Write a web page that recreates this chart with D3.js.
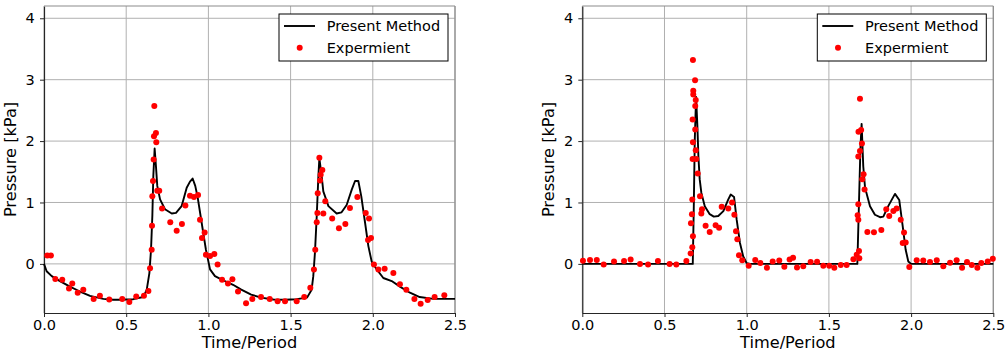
<!DOCTYPE html>
<html>
<head>
<meta charset="utf-8">
<script src="https://cdn.jsdelivr.net/npm/d3@7"></script>
<style>
  body { margin: 0; background: #fff; }
  svg { display: block; font-family: "DejaVu Sans", sans-serif; }
</style>
</head>
<body>
<svg id="canvas" width="1007" height="356"></svg>
<script>
// time/period, pressure [kPa]
let leftModel = [[0,0],[0.016,-0.12],[0.047,-0.2],[0.097,-0.28],[0.158,-0.37],[0.219,-0.45],[0.28,-0.52],[0.361,-0.57],[0.42,-0.585],[0.462,-0.585],[0.543,-0.575],[0.604,-0.54],[0.625,-0.42],[0.641,-0.15],[0.651,0.23],[0.659,0.78],[0.665,1.43],[0.673,1.88],[0.681,1.59],[0.689,1.27],[0.706,1.05],[0.736,0.89],[0.777,0.82],[0.803,0.83],[0.837,0.94],[0.868,1.24],[0.888,1.34],[0.904,1.39],[0.92,1.27],[0.935,1.08],[0.959,0.67],[0.985,0.23],[1.01,-0.09],[1.04,-0.2],[1.09,-0.27],[1.15,-0.34],[1.2,-0.42],[1.26,-0.5],[1.32,-0.55],[1.395,-0.58],[1.466,-0.585],[1.537,-0.575],[1.6,-0.55],[1.628,-0.42],[1.638,-0.2],[1.648,0.18],[1.659,0.78],[1.669,1.43],[1.675,1.72],[1.689,1.43],[1.699,1.18],[1.73,0.94],[1.78,0.82],[1.81,0.84],[1.841,0.96],[1.872,1.21],[1.892,1.35],[1.912,1.35],[1.93,1.1],[1.953,0.67],[1.973,0.29],[1.993,0.04],[2.024,-0.09],[2.064,-0.23],[2.115,-0.28],[2.165,-0.37],[2.226,-0.47],[2.285,-0.54],[2.368,-0.57],[2.5,-0.57]]

let leftExp = [[0.02,0.135],[0.042,0.135],[0.069,-0.245],[0.111,-0.26],[0.152,-0.40],[0.172,-0.32],[0.205,-0.47],[0.239,-0.42],[0.302,-0.57],[0.34,-0.52],[0.397,-0.58],[0.476,-0.57],[0.519,-0.62],[0.561,-0.53],[0.608,-0.52],[0.635,-0.44],[0.645,-0.07],[0.655,0.23],[0.657,0.62],[0.659,1.10],[0.663,1.35],[0.667,1.70],[0.669,2.08],[0.671,2.57],[0.681,2.13],[0.683,1.98],[0.689,1.19],[0.701,1.19],[0.718,0.90],[0.768,0.68],[0.807,0.54],[0.839,0.65],[0.86,0.95],[0.888,1.11],[0.912,1.09],[0.937,1.12],[0.949,0.72],[0.961,0.42],[0.977,0.51],[0.985,0.15],[1.01,0.13],[1.036,0.16],[1.056,-0.01],[1.083,-0.26],[1.119,-0.32],[1.146,-0.25],[1.18,-0.45],[1.229,-0.64],[1.267,-0.57],[1.32,-0.54],[1.373,-0.57],[1.421,-0.61],[1.466,-0.61],[1.537,-0.61],[1.583,-0.54],[1.62,-0.39],[1.642,-0.09],[1.65,0.23],[1.659,0.68],[1.663,0.83],[1.665,1.15],[1.675,1.73],[1.679,1.36],[1.683,1.45],[1.693,1.53],[1.699,0.82],[1.711,1.02],[1.753,0.74],[1.794,0.58],[1.833,0.65],[1.861,0.91],[1.906,1.09],[1.957,0.83],[1.977,0.74],[1.971,0.39],[1.989,0.42],[2.007,-0.01],[2.034,-0.09],[2.072,-0.08],[2.125,-0.15],[2.165,-0.33],[2.204,-0.42],[2.253,-0.57],[2.291,-0.65],[2.334,-0.59],[2.376,-0.54],[2.435,-0.51]]

let rightModel = [[0,0],[0.672,0],[0.678,0.9],[0.684,2.0],[0.692,2.72],[0.70,2.25],[0.706,1.76],[0.714,1.38],[0.724,1.16],[0.745,0.94],[0.775,0.81],[0.80,0.77],[0.827,0.78],[0.858,0.86],[0.888,1.05],[0.903,1.13],[0.923,1.09],[0.939,0.72],[0.959,0.34],[0.979,0.12],[1.0,0.01],[1.02,0],[1.673,0],[1.683,1.0],[1.692,1.9],[1.699,2.28],[1.709,1.59],[1.72,1.24],[1.75,0.94],[1.78,0.80],[1.811,0.76],[1.831,0.77],[1.861,0.94],[1.902,1.14],[1.928,1.04],[1.949,0.61],[1.967,0.23],[1.983,0.04],[2.0,0],[2.5,0]]

let rightExp = [[0.004,0.05],[0.047,0.065],[0.088,0.065],[0.13,-0.01],[0.193,0.04],[0.254,0.045],[0.294,0.07],[0.351,0.0],[0.4,-0.01],[0.46,0.045],[0.531,0.0],[0.572,-0.01],[0.633,0.045],[0.659,0.17],[0.669,0.27],[0.673,0.45],[0.661,0.66],[0.667,0.81],[0.669,1.05],[0.671,1.71],[0.693,1.71],[0.69,1.85],[0.673,1.98],[0.687,2.19],[0.671,2.35],[0.687,2.57],[0.69,2.67],[0.675,2.76],[0.675,2.82],[0.686,2.99],[0.673,3.32],[0.702,1.47],[0.716,1.10],[0.728,0.89],[0.724,0.82],[0.75,0.62],[0.775,0.52],[0.811,0.63],[0.832,0.59],[0.848,0.93],[0.888,0.90],[0.911,1.0],[0.925,0.80],[0.935,0.53],[0.943,0.40],[0.953,0.14],[0.973,0.06],[1.012,-0.03],[1.052,0.065],[1.083,0.015],[1.123,-0.065],[1.158,0.04],[1.198,0.055],[1.229,-0.045],[1.261,0.07],[1.282,0.1],[1.306,-0.06],[1.344,-0.04],[1.389,0.03],[1.428,0.035],[1.466,-0.03],[1.502,-0.03],[1.533,-0.065],[1.572,-0.02],[1.608,-0.02],[1.649,0.075],[1.669,0.15],[1.683,0.21],[1.685,0.09],[1.679,0.72],[1.675,0.79],[1.679,0.97],[1.679,1.75],[1.689,1.84],[1.701,1.96],[1.68,2.15],[1.696,2.18],[1.689,2.69],[1.703,1.38],[1.711,1.46],[1.717,1.21],[1.734,0.52],[1.774,0.515],[1.819,0.55],[1.849,0.89],[1.867,0.78],[1.892,0.86],[1.912,0.90],[1.937,0.72],[1.957,0.51],[1.949,0.34],[1.967,0.35],[1.989,-0.05],[2.034,0.06],[2.074,0.055],[2.115,0.03],[2.156,0.06],[2.196,-0.04],[2.237,0.02],[2.277,0.06],[2.31,-0.065],[2.34,0.03],[2.369,-0.02],[2.403,-0.065],[2.427,0.015],[2.466,0.04],[2.497,0.085]]

let xTicks = [0, 0.5, 1.0, 1.5, 2.0, 2.5]
let yTicks = [0, 1, 2, 3, 4]
let legendLabels = ['Present Method', 'Expermient']

let canvas = d3.select('#canvas')

let drawChart = (left, model, exp) => {
    let w = 411, h = 307, top = 6
    let x = d3.scaleLinear().domain([0, 2.5]).range([0, w])
    let y = d3.scaleLinear().domain([-0.8, 4.2]).range([h, 0])
    let g = canvas.append('g').attr('transform', `translate(${left},${top})`)

    // grid
    g.selectAll('.gx').data(xTicks).enter().append('line')
        .attr('x1', d => x(d)).attr('x2', d => x(d))
        .attr('y1', 0).attr('y2', h)
        .attr('stroke', '#b0b0b0').attr('stroke-width', 1)
    g.selectAll('.gy').data(yTicks).enter().append('line')
        .attr('x1', 0).attr('x2', w)
        .attr('y1', d => y(d)).attr('y2', d => y(d))
        .attr('stroke', '#b0b0b0').attr('stroke-width', 1)

    // axes
    let xAxis = g.append('g').attr('transform', `translate(0,${h})`)
        .call(d3.axisBottom(x).tickValues(xTicks).tickFormat(d3.format('.1f')).tickSize(4).tickSizeOuter(0))
    let yAxis = g.append('g')
        .call(d3.axisLeft(y).tickValues(yTicks).tickFormat(d3.format('d')).tickSize(4).tickSizeOuter(0))
    ;[xAxis, yAxis].forEach(a => {
        a.select('.domain').attr('stroke', '#262626').attr('stroke-width', 1.2)
        a.selectAll('.tick line').attr('stroke', '#262626')
        a.selectAll('.tick text').attr('font-size', '14.5px').attr('fill', '#000')
            .attr('font-family', '"DejaVu Sans", sans-serif')
    })
    yAxis.selectAll('.tick text').attr('dx', '-0.15em')

    // top/right spines
    g.append('line').attr('x1', 0).attr('x2', w).attr('y1', 0).attr('y2', 0)
        .attr('stroke', '#8c8c8c').attr('stroke-width', 1.2)
    g.append('line').attr('x1', w).attr('x2', w).attr('y1', 0).attr('y2', h)
        .attr('stroke', '#8c8c8c').attr('stroke-width', 1.2)

    // labels
    g.append('text').attr('x', w / 2).attr('y', h + 35).attr('text-anchor', 'middle')
        .attr('font-size', '16.2px').text('Time/Period')
    g.append('text').attr('transform', `translate(-28,${h / 2}) rotate(-90)`)
        .attr('text-anchor', 'middle').attr('font-size', '16.2px').text('Pressure [kPa]')

    // model line
    g.append('path').datum(model)
        .attr('d', d3.line().x(d => x(d[0])).y(d => y(d[1])))
        .attr('fill', 'none').attr('stroke', '#000').attr('stroke-width', 1.9)
        .attr('stroke-linejoin', 'round')

    // experiment dots
    g.selectAll('.dot').data(exp).enter().append('circle')
        .attr('cx', d => x(d[0])).attr('cy', d => y(d[1]))
        .attr('r', 3).attr('fill', '#ff0000')

    // legend
    let lg = g.append('g').attr('transform', `translate(${w - 176},8)`)
    lg.append('rect').attr('width', 169).attr('height', 47)
        .attr('fill', '#fff').attr('stroke', '#000').attr('stroke-width', 1)
    lg.append('line').attr('x1', 5).attr('x2', 36).attr('y1', 12).attr('y2', 12)
        .attr('stroke', '#000').attr('stroke-width', 1.9)
    lg.append('circle').attr('cx', 20.7).attr('cy', 33.7).attr('r', 3).attr('fill', '#ff0000')
    lg.selectAll('.lt').data(legendLabels).enter().append('text')
        .attr('x', 47.7).attr('y', (d, i) => 12 + i * 21.5)
        .attr('dy', '0.36em').attr('font-size', '14.5px').text(d => d)
}

drawChart(44, leftModel, leftExp)
drawChart(582.3, rightModel, rightExp)
</script>
</body>
</html>
